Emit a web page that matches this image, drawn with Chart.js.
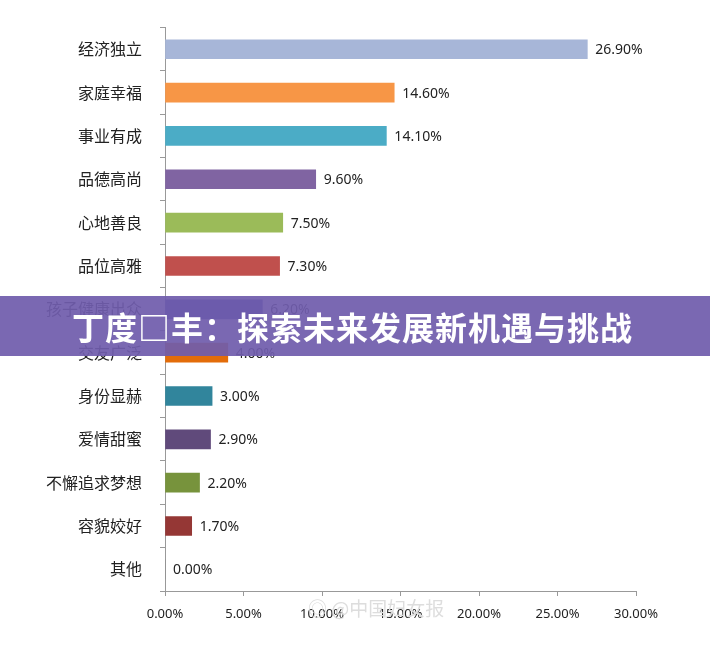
<!DOCTYPE html>
<html><head><meta charset="utf-8">
<script src="https://cdn.jsdelivr.net/npm/chart.js@4"></script>
<style>
body{margin:0;background:#fff;width:710px;height:655px;overflow:hidden;position:relative;font-family:"Noto Sans CJK SC",sans-serif}
#banner{position:absolute;left:0;top:296px;width:710px;height:60px;background:rgba(112,92,172,0.93);color:#fff;font-weight:bold;font-size:32px;line-height:60px;padding-left:72px;box-sizing:border-box;letter-spacing:1px}
#wm{position:absolute;left:308px;top:594px;font-size:19px;color:#ddd}
</style></head><body>
<canvas id="c" width="710" height="655"></canvas>
<div id="banner">丁度□丰：探索未来发展新机遇与挑战</div>
<div id="wm">◎ @中国妇女报</div>
<script>
const categories = ['经济独立','家庭幸福','事业有成','品德高尚','心地善良','品位高雅','孩子健康出众','交友广泛','身份显赫','爱情甜蜜','不懈追求梦想','容貌姣好','其他'];
const values = [26.9,14.6,14.1,9.6,7.5,7.3,6.2,4.0,3.0,2.9,2.2,1.7,0.0];
const colors = ['#a7b6d8','#f79646','#4bacc6','#8064a2','#9bbb59','#c0504d','#3f48a8','#e36c09','#31859c','#604a7b','#77933c','#953735','#888'];

const labelPlugin = {
  id: 'labels',
  afterDatasetsDraw(chart) {
    const ctx = chart.ctx;
    const meta = chart.getDatasetMeta(0);
    ctx.save();
    ctx.font = '14px "Noto Sans", sans-serif';
    ctx.fillStyle = '#222';
    ctx.textBaseline = 'middle';
    meta.data.forEach((bar, i) => {
      ctx.fillText(values[i].toFixed(2) + '%', bar.x + 8, bar.y + 1);
    });
    ctx.restore();
  }
};

new Chart(document.getElementById('c'), {
  type: 'bar',
  data: { labels: categories, datasets: [{ data: values, backgroundColor: colors, barThickness: 19 }] },
  options: {
    indexAxis: 'y', responsive: false, animation: false,
    layout: { padding: { top: 26, right: 74, bottom: 24, left: 0 } },
    plugins: { legend: { display: false }, tooltip: { enabled: false } },
    scales: {
      x: {
        min: 0, max: 30,
        ticks: { stepSize: 5, padding: 10, color: '#222', font: { size: 13, family: '"Noto Sans", sans-serif' },
                 callback: v => v.toFixed(2) + '%' },
        grid: { drawOnChartArea: false, tickLength: 5, color: '#999' },
        border: { color: '#999' },
        afterFit: s => { s.height = 40; }
      },
      y: {
        ticks: { color: '#222', padding: 18, font: { size: 16, family: '"Noto Sans CJK SC", sans-serif' } },
        grid: { drawOnChartArea: false, offset: true, tickLength: 5, color: '#999' },
        border: { color: '#999' },
        afterFit: s => { s.width = 165; }
      }
    }
  },
  plugins: [labelPlugin]
});
</script>
</body></html>
